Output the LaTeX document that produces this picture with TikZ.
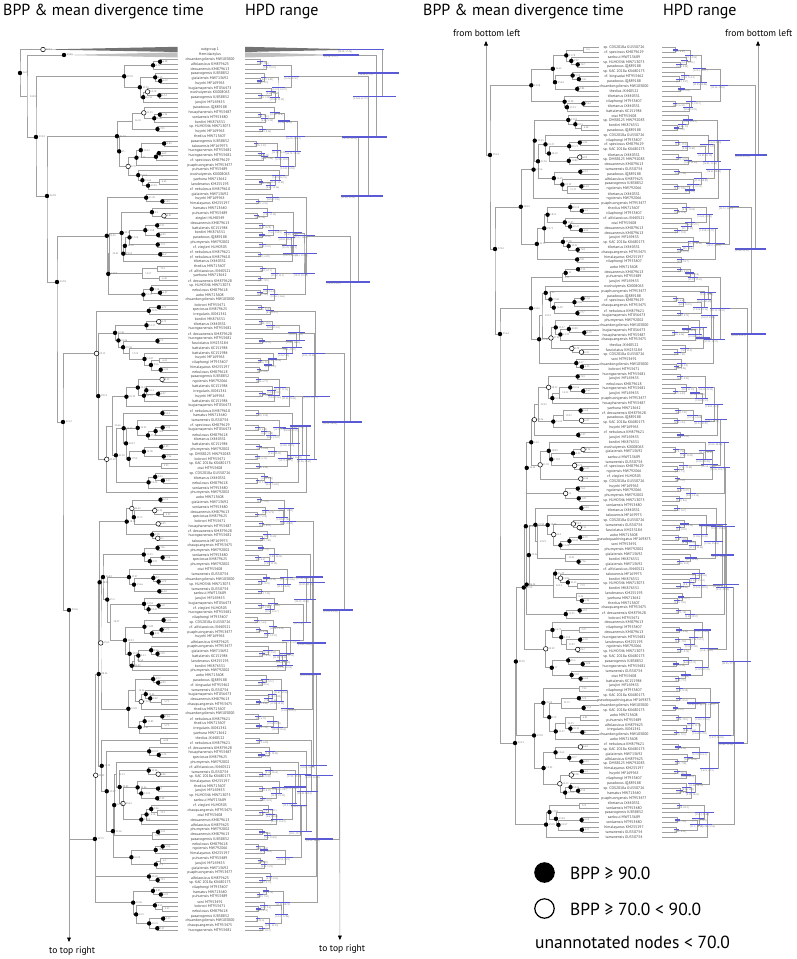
\documentclass[tikz,border=0pt]{standalone}
\usepackage{fontspec}
\setmainfont{PT Sans}
\usetikzlibrary{arrows.meta}
\definecolor{brgray}{RGB}{160,160,160}
\definecolor{hpdblue}{RGB}{90,90,215}
\pgfkeys{/pgf/number format/assume math mode=true}
\tikzset{
  br/.style={draw=brgray,line width=0.5pt},
  hpdbar/.style={draw=hpdblue,line width=1.15pt},
  tiplab/.style={font=\fontsize{3.8}{4.3}\selectfont,text=black!75,inner sep=0pt,anchor=center},
  nlab/.style={font=\fontsize{2.5}{3}\selectfont,text=black!55,inner sep=0.3pt,anchor=west,xshift=2.4pt},
  hlab/.style={font=\fontsize{2.4}{3}\selectfont,text=black!55,inner sep=0.3pt,anchor=north west,yshift=-0.7pt},
  head/.style={font=\fontsize{16}{19}\selectfont,anchor=base west,inner sep=0pt},
  smalltxt/.style={font=\fontsize{9.5}{11}\selectfont,anchor=base west,inner sep=0pt},
  legtxt/.style={font=\fontsize{17.5}{20}\selectfont,anchor=base west,inner sep=0pt},
  arr/.style={draw=brgray,line width=0.6pt,-{Triangle[length=4.5pt,width=3.8pt,color=black]}},
}
\pgfmathdeclarerandomlist{tipnames}{%
{aobo MW713608}{sp. DMSB125 MW792083}{hamatus MW713640}{sanbuui MW713689}{thedius MW713607}%
{thedius JX440522}{alfolaosicus KM879625}{cf. alfolaosicus JX440521}{cf. dexuanensis KM879628}%
{dexuanensis KM879613}{nebulosus KM879618}{cf. nebulosus KM879621}{cf. nebulosus KM879610}%
{yaehuna MW713642}{cf. speciosus KM879629}{speciosus KM879625}{wushuiyensis KX008063}%
{bordini MK876551}{pasavogensis KJ858852}{chuandongdiensis MW103000}{phumyensis MW792002}%
{takouensis MF169975}{huynhi MF169965}{irregularis JX041341}{bugiamapensis MT056473}%
{sp. HLM0346 MW713075}{cf. ziegleri HLM0305}{ziegleri HLM0349}{sonlaensis MT953480}%
{huongsonensis MT953481}{soni MT953491}{ngoiensis MW792066}{gialaiensis MW713692}%
{chauquangensis MT953475}{vilaphongi MT953407}{puaphuongensis MT953477}{bobrovi MT953471}%
{otai MT953408}{houaphanensis MT953487}{puhuensis MT953489}{tibetanus JX440551}%
{battalensis KC151984}{himalayanus KM255197}{fasciolatus KM255184}{lawderanus KM255193}%
{jarujini MF169455}{cf. kingsadai MT953462}{pseudoquadrivirgatus MF169873}%
{sp. KAC 2018a KX680173}{tamanensis GU550734}{sp. CDS2018a GU550726}{paradoxus JQ889188}}
\makeatletter
\gdef\tzdef{}
\newcommand\tzbuild[2]{%
  \ifnum#1=#2\relax\expandafter\@firstoftwo\else\expandafter\@secondoftwo\fi
  {\tztip{#1}}{\tzinner{#1}{#2}}}
\newcommand\tztip[1]{%
  \pgfmathsetmacro\tzy{\tzyz+#1*\tzdy}%
  \pgfmathrandomitem\tzname{tipnames}%
  \node[tiplab] (\tzp T#1) at (\tzlx,\tzy) {\tzname};%
  \coordinate (\tzp M#1-#1) at (\tztx,\tzy);%
  \coordinate (\tzp H#1-#1) at (\tzhx,\tzy);%
  \xdef\tzgy{\tzy}\xdef\tzga{0}}
\newcommand\tzdeco[4]{%
  \ifcase#4\relax
  \or \fill[black] (\tzp M#1) circle (2.2pt);%
  \or \filldraw[fill=white,draw=black,line width=0.5pt] (\tzp M#1) circle (2.3pt);%
  \fi
  \pgfmathsetmacro\tzmy{#2*\tzms}%
  \node[nlab] at (\tzp M#1) {\pgfmathprintnumber[fixed,precision=2]{\tzmy}};%
  \pgfmathsetmacro\tzlo{#2*(0.85-0.08*rnd)}%
  \pgfmathsetmacro\tzhi{#2*(1.1+0.14*rnd)}%
  \pgfmathsetmacro\tzbl{\tzhx+\tzlo*\tzhr}%
  \pgfmathsetmacro\tzbh{min(\tzhx+\tzhi*\tzhr,\tzbmax)}%
  \draw[hpdbar] (\tzbl,#3) -- (\tzbh,#3);%
  \pgfmathsetmacro\tzml{\tzlo*\tzms}\pgfmathsetmacro\tzmh{\tzhi*\tzms}%
  \node[hlab] at (\tzbl,#3) {[\pgfmathprintnumber[fixed,precision=2]{\tzml}, \pgfmathprintnumber[fixed,precision=2]{\tzmh}]};%
}
\newcommand\tzinner[2]{%
  \begingroup
    \pgfmathtruncatemacro\tzs{#1+floor(rnd*(#2-#1))}%
    \pgfmathtruncatemacro\tzsb{\tzs+1}%
    \edef\tznext{\noexpand\tzbuild{#1}{\tzs}}\tznext
    \let\tzya\tzgy \let\tzaa\tzga
    \edef\tznext{\noexpand\tzbuild{\tzsb}{#2}}\tznext
    \let\tzyb\tzgy \let\tzab\tzga
    \pgfmathsetmacro\tzn{#2-#1+1}%
    \pgfmathsetmacro\tza{max(max(\tzaa,\tzab)+2+5*rnd,\tzac*ln(\tzn)*(0.75+0.4*rnd))}%
    \pgfmathsetmacro\tzae{\tzcap*tanh(\tza/\tzcap)}%
    \pgfmathsetmacro\tzny{(\tzya+\tzyb)/2}%
    \pgfmathsetmacro\tzmx{\tztx-\tzae}%
    \pgfmathsetmacro\tzhh{\tzhx+\tzae*\tzhr}%
    \coordinate (\tzp M#1-#2) at (\tzmx,\tzny);%
    \coordinate (\tzp H#1-#2) at (\tzhh,\tzny);%
    \draw[br] (\tzp M#1-\tzs) -| (\tzp M#1-#2) |- (\tzp M\tzsb-#2);%
    \draw[br] (\tzp H#1-\tzs) -| (\tzp H#1-#2) |- (\tzp H\tzsb-#2);%
    \pgfmathsetmacro\tzr{rnd}%
    \ifdim\tzr pt<0.74pt \def\tzty{1}\else\ifdim\tzr pt<0.86pt \def\tzty{2}\else\def\tzty{0}\fi\fi
    \xdef\tzdef{\unexpanded\expandafter{\tzdef}\noexpand\tzdeco{#1-#2}{\tzae}{\tzny}{\tzty}}%
    \xdef\tzgy{\tzny}\xdef\tzga{\tza}%
  \endgroup}
% backbone node: name, x, y, type
\newcommand\tzbb[4]{%
  \pgfmathsetmacro\tzbage{\tztx-#2}%
  \pgfmathsetmacro\tzbhx{\tzhx+\tzbage*\tzhr}%
  \coordinate (\tzp M#1) at (#2,#3);%
  \coordinate (\tzp H#1) at (\tzbhx,#3);%
  \xdef\tzdef{\unexpanded\expandafter{\tzdef}\noexpand\tzdeco{#1}{\tzbage}{#3}{#4}}}
\newcommand\tzflush{\tzdef\gdef\tzdef{}}
\makeatother
\begin{document}
\begin{tikzpicture}[x=1pt,y=-1pt]
\useasboundingbox (0,0) rectangle (797,959);
\pgfmathsetseed{4242}
% headers
\node[head] (h1) at (3,15.5) {BPP \& mean divergence time};
\node[head] (h2) at (245,15.5) {HPD range};
\node[head] (h3) at (423,15.5) {BPP \& mean divergence time};
\node[head] (h4) at (663,15.5) {HPD range};
\node[smalltxt] (fb1) at (453,36.5) {from bottom left};
\node[smalltxt] (fb2) at (725,36.5) {from bottom left};
\node[smalltxt] (tt1) at (49,953.5) {to top right};
\node[smalltxt] (tt2) at (319,951) {to top right};
% ================= LEFT PANEL =================
\def\tzp{L}\def\tzyz{59.3}\def\tzdy{4.814}\def\tztx{177.5}\def\tzhx{245}
\def\tzlx{210}\def\tzhr{0.87}\def\tzac{26}\def\tzms{0.36}\def\tzbmax{399}
\def\tzcap{75}\tzbuild{0}{9}
\def\tzcap{90}\tzbuild{10}{27}
\def\tzcap{100}\tzbuild{28}{50}
\def\tzcap{105}\tzbuild{51}{90}
\def\tzcap{100}\tzbuild{91}{181}
% outgroups
\node[tiplab] (LTo1) at (\tzlx,49.5) {outgroup 1};
\node[tiplab] (LTo2) at (\tzlx,54.5) {Hemidactylus};
\fill[black!55] (43,49.5) -- (177.5,46.8) -- (177.5,52) -- cycle;
\fill[black!25] (64,55) -- (177.5,52.3) -- (177.5,57.5) -- cycle;
\fill[black!55] (362,49.5) -- (245,46.8) -- (245,52) -- cycle;
\fill[black!25] (343.7,55) -- (245,52.3) -- (245,57.5) -- cycle;
\tzbb{O1}{43}{49.5}{2}
\tzbb{O2}{64}{55}{1}
\tzbb{R}{20}{73}{1}
\tzbb{A}{27}{96.5}{0}
\tzbb{B1}{36}{137}{1}
\tzbb{B2}{47}{196}{1}
\tzbb{B3}{57}{282}{1}
\tzbb{B4}{63}{422}{1}
\tzbb{B5}{69}{610}{1}
\coordinate (LMend) at (69,942);
\coordinate (LHend) at (339.9,940);
\foreach \s in {M,H}{
  \draw[br] (L\s O1) -| (L\s R) |- (L\s A);
  \draw[br] (L\s O2) -| (L\s A) |- (L\s B1);
  \draw[br] (L\s 0-9) -| (L\s B1) |- (L\s B2);
  \draw[br] (L\s 10-27) -| (L\s B2) |- (L\s B3);
  \draw[br] (L\s 28-50) -| (L\s B3) |- (L\s B4);
  \draw[br] (L\s 51-90) -| (L\s B4) |- (L\s B5);
  \draw[br] (L\s 91-181) -| (L\s B5);
}
\draw[arr] (LMB5) -- (LMend);
\draw[arr] (LHB5) -- (LHend);
\tzflush
% ================= RIGHT PANEL =================
\def\tzp{R}\def\tzyz{47.5}\def\tzdy{4.874}\def\tztx{599}\def\tzhx{662}
\def\tzlx{624}\def\tzhr{0.86}\def\tzac{28}\def\tzms{0.36}\def\tzbmax{796}
\def\tzcap{100}\tzbuild{0}{13}
\def\tzcap{96}\tzbuild{14}{44}
\def\tzcap{92}\tzbuild{45}{66}
\def\tzcap{92}\tzbuild{67}{162}
\tzbb{N1}{490}{155}{1}
\tzbb{N2}{495}{249}{1}
\tzbb{N3}{500}{334}{1}
\coordinate (RMtop) at (486,41);
\coordinate (RHtop) at (758,41);
\foreach \s in {M,H}{
  \draw[br] (R\s 0-13) -| (R\s N1) |- (R\s N2);
  \draw[br] (R\s 14-44) -| (R\s N2) |- (R\s N3);
  \draw[br] (R\s 45-66) -| (R\s N3) |- (R\s 67-162);
}
\draw[arr] (RMN1) -| (RMtop);
\draw[arr] (RHN1) -| (RHtop);
\tzflush
% ================= LEGEND =================
\node[circle,fill=black,minimum size=20.6pt,inner sep=0pt] (lgf) at (544.5,872.5) {};
\node[circle,draw=black,line width=1.2pt,minimum size=19.4pt,inner sep=0pt] (lgo) at (544.5,908.5) {};
\node[legtxt] (lg1) at (570,879.3) {BPP ≥ 90.0};
\node[legtxt] (lg2) at (570,915.3) {BPP ≥ 70.0 < 90.0};
\node[legtxt] (lg3) at (535,948) {unannotated nodes < 70.0};
\end{tikzpicture}
\end{document}
